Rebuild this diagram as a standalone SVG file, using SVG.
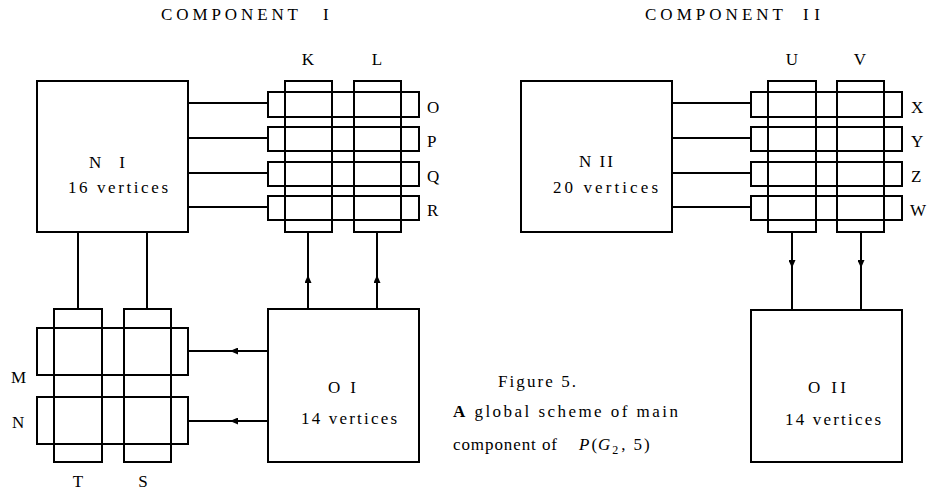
<svg xmlns="http://www.w3.org/2000/svg" width="930" height="491" viewBox="0 0 930 491">
<defs>
<marker id="ah" viewBox="0 0 8 7" refX="8" refY="3.5" markerWidth="8" markerHeight="7" markerUnits="userSpaceOnUse" orient="auto">
<path d="M0,0 L8,3.5 L0,7 Z" fill="#000"/>
</marker>
<style>
.b, .c { fill: none; stroke: #000; stroke-width: 2; }
text { font-family: "Liberation Serif", "Times New Roman", serif; font-size: 17px; fill: #000; }
.m { text-anchor: middle; }
</style>
</defs>
<rect width="930" height="491" fill="#fff"/>

<g id="titles">
<text x="161" y="20" textLength="137" lengthAdjust="spacing">COMPONENT</text>
<text x="323" y="20">I</text>
<text x="645" y="20" textLength="138" lengthAdjust="spacing">COMPONENT</text>
<text x="803" y="20" textLength="17" lengthAdjust="spacing">II</text>
</g>

<g id="NI">
<rect class="b" x="37" y="81" width="151" height="151"/>
<text x="89" y="168" textLength="36" lengthAdjust="spacing">N I</text>
<text x="68" y="193" textLength="100" lengthAdjust="spacing">16 vertices</text>
</g>

<g id="grid1">
<rect class="b" x="285" y="81" width="47" height="151"/>
<rect class="b" x="354" y="81" width="47" height="151"/>
<rect class="b" x="268" y="92" width="151" height="25"/>
<rect class="b" x="268" y="127" width="151" height="24"/>
<rect class="b" x="268" y="162" width="151" height="24"/>
<rect class="b" x="268" y="196" width="151" height="24"/>
<text class="m" x="308" y="65">K</text>
<text class="m" x="377" y="65">L</text>
<text x="427" y="113">O</text>
<text x="427" y="147">P</text>
<text x="427" y="182">Q</text>
<text x="427" y="216">R</text>
</g>

<g id="grid2">
<rect class="b" x="54" y="309" width="48" height="153"/>
<rect class="b" x="124" y="309" width="47" height="153"/>
<rect class="b" x="37" y="328" width="151" height="47"/>
<rect class="b" x="37" y="397" width="151" height="47"/>
<text x="11" y="383">M</text>
<text x="12" y="428">N</text>
<text class="m" x="78" y="487">T</text>
<text class="m" x="143" y="487">S</text>
</g>

<g id="OI">
<rect class="b" x="268" y="309" width="151" height="153"/>
<text x="328" y="393" textLength="28" lengthAdjust="spacing">O I</text>
<text x="301" y="424" textLength="96" lengthAdjust="spacing">14 vertices</text>
</g>

<g id="NII">
<rect class="b" x="521" y="81" width="151" height="151"/>
<text x="579" y="167" textLength="34" lengthAdjust="spacing">N II</text>
<text x="553" y="193" textLength="105" lengthAdjust="spacing">20 vertices</text>
</g>

<g id="grid3">
<rect class="b" x="768" y="81" width="48" height="151"/>
<rect class="b" x="837" y="81" width="47" height="151"/>
<rect class="b" x="751" y="92" width="151" height="25"/>
<rect class="b" x="751" y="127" width="151" height="24"/>
<rect class="b" x="751" y="162" width="151" height="24"/>
<rect class="b" x="751" y="196" width="151" height="24"/>
<text class="m" x="792" y="65">U</text>
<text class="m" x="860" y="65">V</text>
<text x="911" y="113">X</text>
<text x="911" y="147">Y</text>
<text x="911" y="182">Z</text>
<text x="910" y="216">W</text>
</g>

<g id="OII">
<rect class="b" x="751" y="310" width="151" height="152"/>
<text x="808" y="393" textLength="38" lengthAdjust="spacing">O II</text>
<text x="785" y="425" textLength="96" lengthAdjust="spacing">14 vertices</text>
</g>

<g id="caption">
<text x="498" y="387" textLength="78" lengthAdjust="spacing">Figure 5.</text>
<text x="453" y="417" textLength="225" lengthAdjust="spacing"><tspan font-weight="bold">A</tspan> global scheme of main</text>
<text x="453" y="450" textLength="104" lengthAdjust="spacing">component of</text>
<text x="579" y="450" font-size="19"><tspan font-style="italic">P</tspan><tspan dx="2">(</tspan><tspan font-style="italic" dx="1">G</tspan><tspan font-size="12" dy="4" dx="2">2</tspan><tspan dy="-4" dx="3">,</tspan><tspan dx="8">5</tspan><tspan dx="2">)</tspan></text>
</g>

<g id="connectors">
<line class="c" x1="188" y1="103" x2="268" y2="103"/>
<line class="c" x1="188" y1="138" x2="268" y2="138"/>
<line class="c" x1="188" y1="173" x2="268" y2="173"/>
<line class="c" x1="188" y1="207" x2="268" y2="207"/>
<line class="c" x1="78" y1="232" x2="78" y2="309"/>
<line class="c" x1="147" y1="232" x2="147" y2="309"/>
<path class="c" d="M268,351 L230,351 L188,351" marker-mid="url(#ah)"/>
<path class="c" d="M268,421 L230,421 L188,421" marker-mid="url(#ah)"/>
<path class="c" d="M308,309 L308,275 L308,232" marker-mid="url(#ah)"/>
<path class="c" d="M377,309 L377,275 L377,232" marker-mid="url(#ah)"/>
<line class="c" x1="672" y1="103" x2="751" y2="103"/>
<line class="c" x1="672" y1="138" x2="751" y2="138"/>
<line class="c" x1="672" y1="173" x2="751" y2="173"/>
<line class="c" x1="672" y1="207" x2="751" y2="207"/>
<path class="c" d="M792,232 L792,268 L792,310" marker-mid="url(#ah)"/>
<path class="c" d="M861,232 L861,268 L861,310" marker-mid="url(#ah)"/>
</g>
</svg>
